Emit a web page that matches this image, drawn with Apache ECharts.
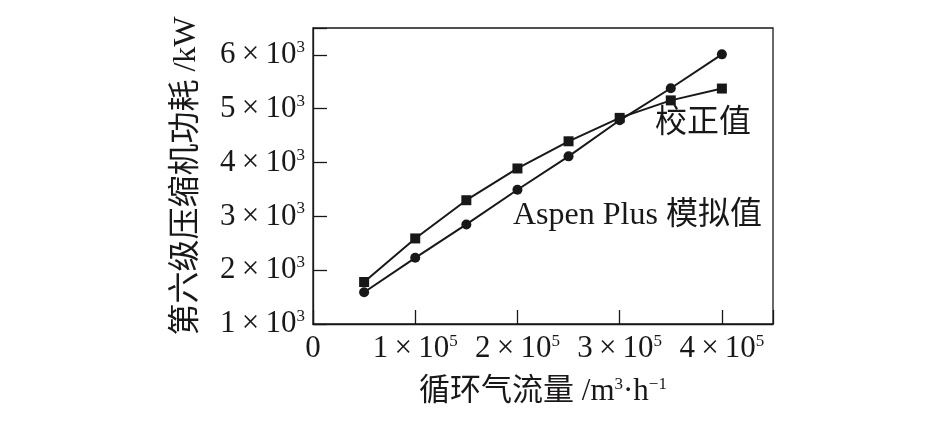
<!DOCTYPE html>
<html><head><meta charset="utf-8">
<script src="https://cdn.jsdelivr.net/npm/echarts@6/dist/echarts.min.js"></script>
<style>html,body{margin:0;padding:0;background:#fff}#c{width:945px;height:425px}</style>
</head><body><div id="c"></div>
<script>
var flowRates = [50000, 100000, 150000, 200000, 250000, 300000, 350000, 400000];
var calibrated = [1780, 2590, 3300, 3890, 4395, 4830, 5155, 5375];
var aspenPlus = [1590, 2230, 2850, 3495, 4115, 4785, 5380, 6010];
var xTickValues = [0, 100000, 200000, 300000, 400000];
var yTickValues = [1000, 2000, 3000, 4000, 5000, 6000];
var xAxisTitle = ['循环气流量 /m', '3', '·h', '\u22121'];
var yAxisTitle = '第六级压缩机功耗 /kW';
var seriesNames = ['校正值', 'Aspen Plus 模拟值'];

var FONT = '"Liberation Serif","Noto Sans CJK SC",serif';
var chart = echarts.init(document.getElementById('c'));
var rich = {
  n: {fontFamily: FONT, fontSize: 31, color: '#1a1718', lineHeight: 32},
  c: {fontFamily: FONT, fontSize: 31, color: '#1a1718', lineHeight: 32},
  s: {fontFamily: FONT, fontSize: 17, color: '#1a1718', verticalAlign: 'top', lineHeight: 32, padding: [0, 0, 15, 0]}
};
var lineStyle = {color: '#1a1718', width: 2};
var TIMES = '\u2009×\u2009';
chart.setOption({
  animation: false,
  backgroundColor: '#fff',
  grid: {left: 313, right: 172, top: 28, bottom: 101, show: true, borderColor: '#1a1718', borderWidth: 1.3, containLabel: false},
  xAxis: {
    type: 'value', min: 0, max: 450000, interval: 100000,
    axisLine: {lineStyle: {color: '#1a1718', width: 1.3}},
    axisTick: {inside: true, length: 14, lineStyle: {color: '#1a1718', width: 1.3}},
    splitLine: {show: false},
    axisLabel: {
      margin: 9,
      showMaxLabel: true,
      formatter: function (v) {
        if (xTickValues.indexOf(v) < 0) return '';
        if (v === 0) return '{n|0}';
        return '{n|' + (v / 100000) + TIMES + '10}{s|5}';
      },
      rich: rich
    },
    name: '{c|' + xAxisTitle[0] + '}{s|' + xAxisTitle[1] + '}{c|' + xAxisTitle[2] + '}{s|' + xAxisTitle[3] + '}',
    nameLocation: 'middle', nameGap: 52,
    nameTextStyle: {rich: rich}
  },
  yAxis: {
    type: 'value', min: 1000, max: 6500, interval: 1000,
    axisLine: {lineStyle: {color: '#1a1718', width: 1.3}},
    axisTick: {inside: true, length: 14, lineStyle: {color: '#1a1718', width: 1.3}},
    splitLine: {show: false},
    axisLabel: {
      margin: 8,
      formatter: function (v) {
        if (yTickValues.indexOf(v) < 0) return '';
        return '{n|' + (v / 1000) + TIMES + '10}{s|3}';
      },
      rich: rich
    },
    name: yAxisTitle,
    nameLocation: 'middle', nameGap: 110, nameRotate: 90,
    nameTextStyle: {fontFamily: FONT, fontSize: 32, color: '#1a1718'}
  },
  series: [
    {
      name: seriesNames[0], type: 'line',
      data: flowRates.map(function (x, i) { return [x, calibrated[i]]; }),
      symbol: 'rect', symbolSize: 10, showAllSymbol: true,
      itemStyle: {color: '#1a1718'}, lineStyle: lineStyle
    },
    {
      name: seriesNames[1], type: 'line',
      data: flowRates.map(function (x, i) { return [x, aspenPlus[i]]; }),
      symbol: 'circle', symbolSize: 10, showAllSymbol: true,
      itemStyle: {color: '#1a1718'}, lineStyle: lineStyle
    }
  ],
  graphic: [
    {type: 'text', left: 655, top: 108, style: {text: seriesNames[0], font: '32px ' + FONT, fill: '#1a1718'}},
    {type: 'text', left: 513, top: 200, style: {text: seriesNames[1], font: '32px ' + FONT, fill: '#1a1718'}}
  ]
});
</script></body></html>
